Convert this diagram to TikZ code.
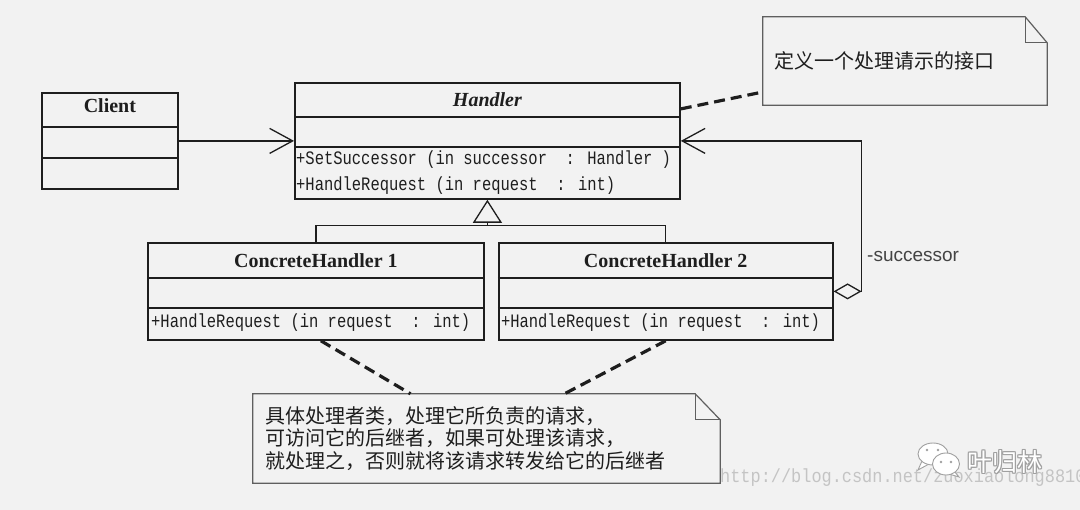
\documentclass[tikz,border=0pt]{standalone}
\usepackage{fontspec}
\setmainfont{Liberation Serif}
\setsansfont{Liberation Sans}
\newfontfamily\cjkfont{Noto Sans CJK SC}
\newfontfamily\opsfont[FakeStretch=0.815]{Liberation Mono}
\newfontfamily\urlfont[FakeStretch=0.89]{Liberation Mono}
\usepackage{tikz}
\usetikzlibrary{arrows.meta,positioning,calc}
\definecolor{paper}{RGB}{242,242,242}
\definecolor{umlink}{RGB}{30,30,30}
\definecolor{notegray}{RGB}{95,95,95}
\definecolor{markgray}{RGB}{196,196,196}
\definecolor{logogray}{RGB}{160,160,160}

\begin{document}
\begin{tikzpicture}[
        x=1pt, y=-1pt,
        classbox/.style={rectangle, draw=umlink, line width=1.8pt, anchor=north west, inner sep=0pt},
        divider/.style={draw=umlink, line width=1.6pt},
        classname/.style={font=\bfseries\fontsize{20pt}{24pt}\selectfont, text=umlink, inner sep=0pt},
        abstractname/.style={classname, font=\bfseries\itshape\fontsize{20pt}{24pt}\selectfont},
        ops/.style={font=\opsfont\fontsize{19pt}{25.5pt}\selectfont, text=umlink, inner sep=0pt, align=left, anchor=base west},
        note/.style={rectangle, inner xsep=#1, inner ysep=0pt, align=left, font=\cjkfont\fontsize{20pt}{22.5pt}\selectfont, text=umlink},
        noteline/.style={draw=notegray, line width=1.2pt, line join=miter},
        link/.style={draw=umlink, line width=1.3pt},
        notelink/.style={draw=umlink, line width=3.2pt, dash pattern=on 11pt off 6pt},
        barb/.style={-{Straight Barb[length=23pt, width=25pt]}}
    ]
        \fill[paper] (0,0) rectangle (1080,510);
        \useasboundingbox (0,0) rectangle (1080,510);

        \node[classbox, minimum width=136pt, minimum height=96pt] (client) at (41,92) {};
        \draw[divider] ([yshift=-35pt]client.north west) -- ([yshift=-35pt]client.north east);
        \draw[divider] ([yshift=-66pt]client.north west) -- ([yshift=-66pt]client.north east);
        \node[classname] (clientname) at ($(client.north)+(0,14)$) {Client};

        \node[classbox, minimum width=385pt, minimum height=116pt] (handler) at (294,82) {};
        \draw[divider] ([yshift=-35pt]handler.north west) -- ([yshift=-35pt]handler.north east);
        \draw[divider] ([yshift=-65pt]handler.north west) -- ([yshift=-65pt]handler.north east);
        \node[abstractname] (handlername) at ($(handler.north)+(0,18)$) {Handler};
        \node[ops] (handlerops) at ($(handler.north west)+(2,108.5)$) {+SetSuccessor (in successor\ \ : Handler )\\+HandleRequest (in request\ \ : int)};

        \node[classbox, minimum width=336pt, minimum height=97pt] (ch1) at (147,242) {};
        \node[classbox, minimum width=334pt, minimum height=97pt, right=13pt of ch1] (ch2) {};
        \foreach \c in {ch1, ch2} {
            \draw[divider] ([yshift=-36pt]\c.north west) -- ([yshift=-36pt]\c.north east);
            \draw[divider] ([yshift=-66pt]\c.north west) -- ([yshift=-66pt]\c.north east);
        }
        \node[classname] (ch1name) at ($(ch1.north)+(0,19)$) {ConcreteHandler 1};
        \node[classname] (ch2name) at ($(ch2.north)+(0,19)$) {ConcreteHandler 2};
        \node[ops] (ch1ops) at ($(ch1.north west)+(4,86)$) {+HandleRequest (in request\ \ : int)};
        \node[ops] (ch2ops) at ($(ch2.north west)+(3,86)$) {+HandleRequest (in request\ \ : int)};

        \coordinate (joint) at ($(handler.south)+(0,26)$);
        \draw[link] (ch1.north) |- (joint);
        \draw[link] (ch2.north) |- (joint);
        \draw[link, -{Triangle[open, length=23pt, width=29pt]}] (joint) -- (handler.south);

        \draw[link, barb] (client) -- (handler);
        \draw[link, {Diamond[open, length=28pt, width=16pt]}-{Straight Barb[length=23pt, width=25pt]}] (ch2.east) -- ++(28,0) |- (handler.east);
        \node[font=\sffamily\fontsize{19pt}{22pt}\selectfont, text=notegray!70!black, anchor=west, inner sep=0pt] (succ) at (867,256) {-successor};

        \node[note=11pt, minimum width=284pt, minimum height=88pt, text width=262pt] (defnote) at (905,61) {定义一个处理请示的接口};
        \node[note=12pt, minimum width=467pt, minimum height=89pt, text width=443pt] (implnote) at (486.5,438.5) {具体处理者类，处理它所负责的请求，\\可访问它的后继者，如果可处理该请求，\\就处理之，否则就将该请求转发给它的后继者};
        \foreach \n/\fx in {defnote/22, implnote/25} {
            \draw[noteline] (\n.north west) -- ([xshift=-\fx pt]\n.north east) -- ([yshift=-26pt]\n.north east) -- (\n.south east) -- (\n.south west) -- cycle;
            \draw[noteline] ([xshift=-\fx pt]\n.north east) |- ([yshift=-26pt]\n.north east);
        }

        \draw[notelink] ([yshift=32pt]handler.east) -- ([yshift=-31pt]defnote.west);
        \draw[notelink] ([xshift=5pt]ch1.south) -- ([xshift=-76pt]implnote.north);
        \draw[notelink] (ch2.south) -- ([xshift=78pt]implnote.north);

        \node[font=\urlfont\fontsize{19pt}{22pt}\selectfont, text=markgray, anchor=west, inner sep=0pt] (blogurl) at (720,478) {http://blog.csdn.net/zuoxiaolong8810};

        \begin{scope}[draw=logogray, line width=0.9pt, fill=white]
            \filldraw (922,461) -- (918,470) -- (929,464) -- cycle;
            \filldraw (933,454) ellipse [x radius=15, y radius=11];
            \filldraw (954,471) -- (959,477) -- (949,474) -- cycle;
            \filldraw (946,464) ellipse [x radius=13.5, y radius=11];
            \foreach \p in {(927,450), (938,450), (941,462), (951,462)}
                \fill[logogray] \p circle (1.4);
        \end{scope}
        \foreach \dx/\dy in {0.8/0, -0.8/0, 0/0.8, 0/-0.8, 0.6/0.6, -0.6/0.6, 0.6/-0.6, -0.6/-0.6}
            \node[font=\cjkfont\fontsize{25pt}{28pt}\selectfont, text=logogray, inner sep=0pt] at ($(1005,462)+(\dx,\dy)$) {叶归林};
        \node[font=\cjkfont\fontsize{25pt}{28pt}\selectfont, text=white, inner sep=0pt] (wxname) at (1005,462) {叶归林};
    \end{tikzpicture}
\end{document}
